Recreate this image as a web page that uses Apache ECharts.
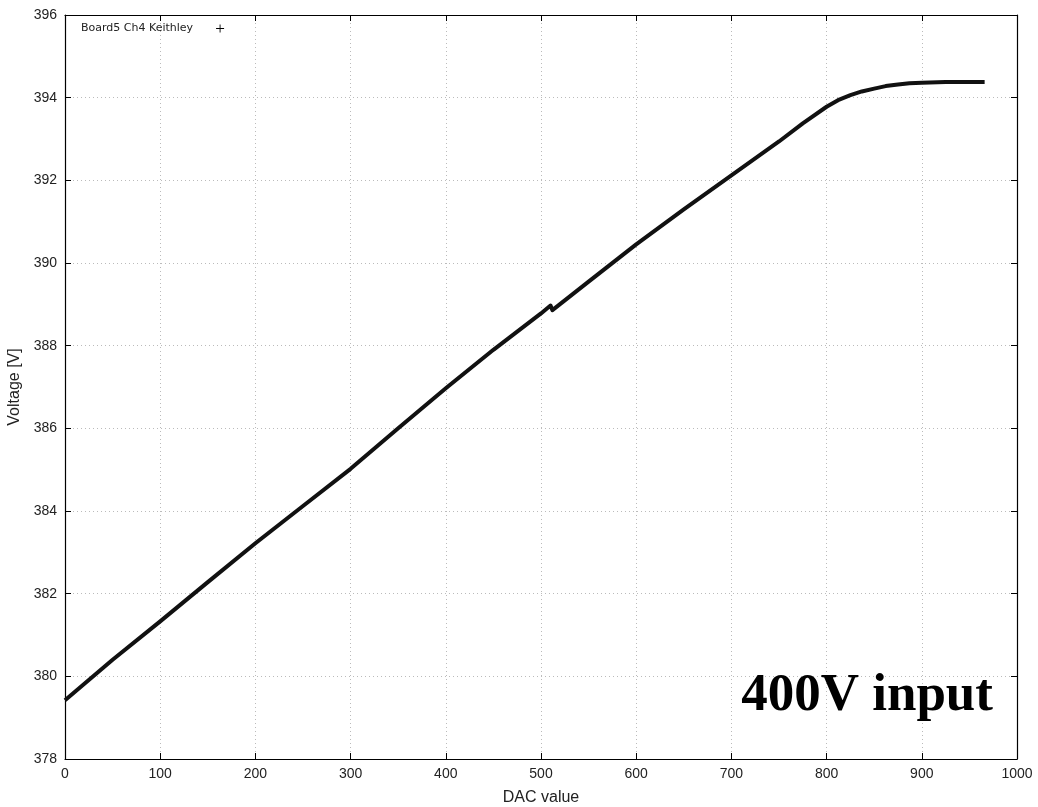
<!DOCTYPE html>
<html>
<head>
<meta charset="utf-8">
<script src="https://cdn.jsdelivr.net/npm/echarts@6/dist/echarts.min.js"></script>
<style>html,body{margin:0;padding:0;background:#fff;}#c{width:1038px;height:807px;}</style>
</head>
<body>
<div id="c"></div>
<script>
const dac = [0, 50, 100, 150, 200, 250, 300, 350, 400, 450, 500, 510, 512, 550, 600, 650, 700, 750, 775, 800, 812, 825, 837, 850, 862, 875, 887, 900, 925, 966];
const voltage = [379.42, 380.40, 381.33, 382.28, 383.22, 384.12, 385.02, 386.00, 386.97, 387.90, 388.78, 388.97, 388.86, 389.55, 390.45, 391.30, 392.12, 392.94, 393.38, 393.78, 393.94, 394.06, 394.15, 394.22, 394.28, 394.32, 394.35, 394.36, 394.38, 394.38];
const seriesName = 'Board5 Ch4 Keithley';
const annotation = '400V input';

const chart = echarts.init(document.getElementById('c'));
const pts = dac.map((d, i) => [d, voltage[i]]);
const font = '"Liberation Sans", Arial, sans-serif';
const tickCol = '#222';
const gridLine = { show: true, lineStyle: { type: [1, 3], color: '#bbb', width: 1 } };

chart.setOption({
  animation: false,
  backgroundColor: '#fff',
  grid: { left: 65, right: 21, top: 15, bottom: 48, containLabel: false, outerBoundsMode: 'none' },
  legend: {
    left: 76, top: 18,
    align: 'right',
    itemWidth: 8, itemHeight: 8, itemGap: 4,
    textStyle: { fontFamily: '"DejaVu Sans", sans-serif', fontSize: 11, color: '#222', padding: [0, 18, 0, 0] },
    data: [{ name: seriesName, icon: 'path://M4,0 L5,0 L5,4 L9,4 L9,5 L5,5 L5,9 L4,9 L4,5 L0,5 L0,4 L4,4 Z', itemStyle: { color: '#000' } }]
  },
  xAxis: [
    {
      type: 'value', min: 0, max: 1000, interval: 100,
      name: 'DAC value', nameLocation: 'middle', nameGap: 31,
      nameTextStyle: { fontFamily: font, fontSize: 16, color: tickCol },
      axisLine: { show: true, lineStyle: { color: '#000', width: 1.2 } },
      axisTick: { show: true, inside: true, length: 6, lineStyle: { color: '#000' } },
      axisLabel: { fontFamily: font, fontSize: 14, color: tickCol, margin: 8, formatter: v => String(v) },
      splitLine: gridLine
    },
    {
      type: 'value', min: 0, max: 1000, interval: 100, position: 'top',
      axisLine: { show: true, onZero: false, lineStyle: { color: '#000', width: 1.2 } },
      axisTick: { show: true, inside: true, length: 6, lineStyle: { color: '#000' } },
      axisLabel: { show: false }, splitLine: { show: false }
    }
  ],
  yAxis: [
    {
      type: 'value', min: 378, max: 396, interval: 2,
      name: 'Voltage [V]', nameLocation: 'middle', nameGap: 30,
      nameTextStyle: { fontFamily: font, fontSize: 16, color: tickCol },
      axisLine: { show: true, lineStyle: { color: '#000', width: 1.2 } },
      axisTick: { show: true, inside: true, length: 6, lineStyle: { color: '#000' } },
      axisLabel: { fontFamily: font, fontSize: 14, color: tickCol, margin: 8 },
      splitLine: gridLine
    },
    {
      type: 'value', min: 378, max: 396, interval: 2, position: 'right',
      axisLine: { show: true, onZero: false, lineStyle: { color: '#000', width: 1.2 } },
      axisTick: { show: true, inside: true, length: 6, lineStyle: { color: '#000' } },
      axisLabel: { show: false }, splitLine: { show: false }
    }
  ],
  series: [{
    name: seriesName,
    type: 'line',
    xAxisIndex: 0, yAxisIndex: 0,
    data: pts,
    smooth: false,
    showSymbol: false,
    symbol: 'none',
    lineStyle: { color: '#111', width: 4, join: 'round' },
    itemStyle: { color: '#000' }
  }],
  graphic: [{
    type: 'text',
    right: 45, top: 670, z: 100, zlevel: 1,
    style: {
      text: annotation,
      font: 'bold 53px "Liberation Serif", "Times New Roman", serif',
      fill: '#000'
    }
  }]
});
</script>
</body>
</html>
